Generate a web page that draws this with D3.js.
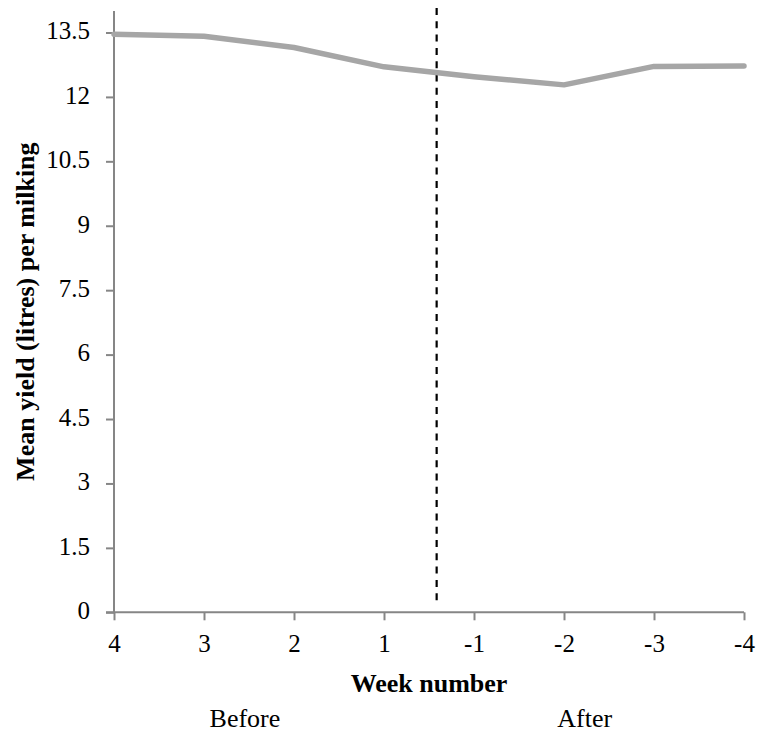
<!DOCTYPE html>
<html>
<head>
<meta charset="utf-8">
<script src="https://cdn.jsdelivr.net/npm/d3@7"></script>
<style>
  html, body { margin: 0; padding: 0; background: #fff; }
  svg { display: block; }
</style>
</head>
<body>
<svg id="chart" width="760" height="733"></svg>
<script>
const weeks = ["4", "3", "2", "1", "-1", "-2", "-3", "-4"];
const meanYield = [13.46, 13.41, 13.15, 12.70, 12.47, 12.28, 12.71, 12.72];
const yTicks = [0, 1.5, 3, 4.5, 6, 7.5, 9, 10.5, 12, 13.5];
const yMax = 14;
const dividerAt = 3.585; // position in category index units (between "1" and "-1")
const periodLabels = ["Before", "After"];
const periodCenters = [1.455, 5.23]; // in category index units

(function () {
const FONT = "'Liberation Serif', Tinos, 'Times New Roman', Times, 'DejaVu Serif', serif";
const svg = d3.select("#chart");
const mLeft = 114, mRight = 744, mTop = 11, mBottom = 612.3;

const x = d3.scalePoint().domain(weeks).range([mLeft, mRight]);
const xi = d3.scaleLinear().domain([0, weeks.length - 1]).range([mLeft, mRight]);
const y = d3.scaleLinear().domain([0, yMax]).range([mBottom, mTop]);

const axisColor = "#868686";

// Y axis
const yAxis = svg.append("g")
  .attr("transform", `translate(${mLeft},0)`)
  .call(d3.axisLeft(y).tickValues(yTicks).tickSize(8).tickPadding(16)
        .tickFormat(d => d3.format("")(d)));
yAxis.attr("font-family", null).attr("font-size", null);
yAxis.select(".domain").remove();
yAxis.selectAll(".tick line").attr("stroke", axisColor).attr("stroke-width", 2);
yAxis.selectAll(".tick text").attr("font-family", FONT).attr("font-size", 25)
  .attr("dy", "0.25em").attr("fill", "#000");
svg.append("line").attr("x1", mLeft).attr("x2", mLeft).attr("y1", mTop).attr("y2", mBottom)
  .attr("stroke", axisColor).attr("stroke-width", 2);

// X axis
const xAxis = svg.append("g")
  .attr("transform", `translate(0,${mBottom})`)
  .call(d3.axisBottom(x).tickSize(8).tickPadding(14));
xAxis.attr("font-family", null).attr("font-size", null);
xAxis.select(".domain").remove();
xAxis.selectAll(".tick line").attr("stroke", axisColor).attr("stroke-width", 2);
xAxis.selectAll(".tick text").attr("font-family", FONT).attr("font-size", 25).attr("fill", "#000");
svg.append("line").attr("x1", mLeft - 8).attr("x2", mRight).attr("y1", mBottom).attr("y2", mBottom)
  .attr("stroke", axisColor).attr("stroke-width", 2);

// Divider dashed line
svg.append("line")
  .attr("x1", xi(dividerAt)).attr("x2", xi(dividerAt))
  .attr("y1", 8).attr("y2", 604)
  .attr("stroke", "#000").attr("stroke-width", 2.2)
  .attr("stroke-dasharray", "7,6.3");

// Data line
const line = d3.line().x((d, i) => x(weeks[i])).y(d => y(d));
svg.append("path").datum(meanYield)
  .attr("d", line)
  .attr("fill", "none")
  .attr("stroke", "#a6a6a6")
  .attr("stroke-width", 5.5)
  .attr("stroke-linejoin", "round")
  .attr("stroke-linecap", "round");

// Axis titles
svg.append("text")
  .attr("transform", `translate(25,${(mTop + mBottom) / 2}) rotate(-90)`)
  .attr("text-anchor", "middle").attr("dominant-baseline", "central")
  .attr("font-family", FONT).attr("font-size", 26).attr("font-weight", "bold")
  .text("Mean yield (litres) per milking");

svg.append("text")
  .attr("x", 429).attr("y", 692)
  .attr("text-anchor", "middle")
  .attr("font-family", FONT).attr("font-size", 26).attr("font-weight", "bold")
  .text("Week number");

periodLabels.forEach((t, i) => {
  svg.append("text")
    .attr("x", xi(periodCenters[i])).attr("y", 727)
    .attr("text-anchor", "middle")
    .attr("font-family", FONT).attr("font-size", 26)
    .text(t);
});
})();
</script>
</body>
</html>
